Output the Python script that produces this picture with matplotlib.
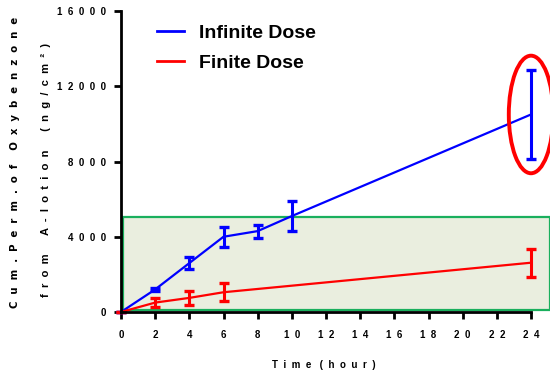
import numpy as np
import matplotlib
matplotlib.use("Agg")
import matplotlib.pyplot as plt
from matplotlib.patches import Rectangle, Ellipse
from matplotlib.lines import Line2D
from matplotlib.ticker import FuncFormatter

plt.rcParams["font.family"] = ["Liberation Sans", "DejaVu Sans"]

# ==================================================
# data
# ==================================================
time_inf = [0, 2, 4, 6, 8, 10, 24]
perm_inf = [0, 1200, 2600, 4000, 4300, 5100, 10500]
err_inf = [0, 60, 300, 520, 350, 820, 2350]

time_fin = [0, 2, 4, 6, 24]
perm_fin = [0, 500, 750, 1050, 2620]
err_fin = [0, 230, 370, 490, 750]

X_TICKS = list(range(0, 25, 2))
Y_TICKS = [0, 4000, 8000, 12000, 16000]

BLUE = "#0000FF"
RED = "#FF0000"


def spaced(s, gap="  ", word_gap="     "):
    # letter spacing like the original figure
    return word_gap.join(gap.join(w) for w in s.split(" "))


fig = plt.figure(figsize=(5.5, 3.71), dpi=100)
ax = fig.add_axes([121 / 550, 1 - 312 / 371, (531 - 121) / 550, (312 - 11) / 371])

# highlighted region (green box)
ax.add_patch(Rectangle((0.12, 120), 25.0, 4950,
                       facecolor="#EAEEDF", edgecolor="#1AAF5D",
                       linewidth=1.6, clip_on=False, zorder=0))

ax.errorbar(time_inf, perm_inf, yerr=err_inf, color=BLUE,
            linewidth=1.6, elinewidth=2.2, capsize=3.3, capthick=2.4,
            zorder=3, clip_on=False)
ax.errorbar(time_fin, perm_fin, yerr=err_fin, color=RED,
            linewidth=1.6, elinewidth=2.2, capsize=3.3, capthick=2.4,
            zorder=3, clip_on=False)

# highlight of last time point
ax.add_patch(Ellipse((24, 10500), 2.6, 6250, fill=False,
                     edgecolor=RED, linewidth=2.8, clip_on=False, zorder=4))

ax.set_xlim(0, 24)
ax.set_ylim(0, 16000)
ax.set_xticks(X_TICKS)
ax.set_yticks(Y_TICKS)
ax.xaxis.set_major_formatter(FuncFormatter(lambda v, p: spaced(str(int(v)))))
ax.yaxis.set_major_formatter(FuncFormatter(lambda v, p: spaced(str(int(v)))))

for side in ["top", "right"]:
    ax.spines[side].set_visible(False)
for side in ["left", "bottom"]:
    ax.spines[side].set_linewidth(2)
    ax.spines[side].set_zorder(5)

ax.tick_params(axis="both", direction="out", length=5, width=2,
               labelsize=7)
ax.tick_params(axis="x", pad=8)
ax.tick_params(axis="y", pad=6)
for lbl in ax.get_xticklabels() + ax.get_yticklabels():
    lbl.set_fontweight("bold")

handles = [Line2D([], [], color=BLUE, linewidth=2),
           Line2D([], [], color=RED, linewidth=2)]
ax.legend(handles, ["Infinite Dose", "Finite Dose"],
          loc="upper left", bbox_to_anchor=(0.045, 1.013), frameon=False,
          prop={"size": 14, "weight": "bold"}, handlelength=1.4,
          handletextpad=0.75, labelspacing=0.62)

# axis titles (letter spaced)
fig.text(15 / 550, 1 - 162 / 371,
         spaced("Cum.Perm.of Oxybenzone", "  ", "    "),
         rotation=90, ha="center", va="center", fontsize=7.3,
         fontweight="bold", family="DejaVu Sans")
fig.text(46 / 550, 1 - 170 / 371,
         spaced("from A-lotion (ng/cm²)", "  ", "      "),
         rotation=90, ha="center", va="center", fontsize=8, fontweight="bold")
fig.text(324 / 550, 1 - 365 / 371, spaced("Time (hour)", "  ", "   "),
         ha="center", va="center", fontsize=7, fontweight="bold")

fig.savefig("out.png", dpi=100)
